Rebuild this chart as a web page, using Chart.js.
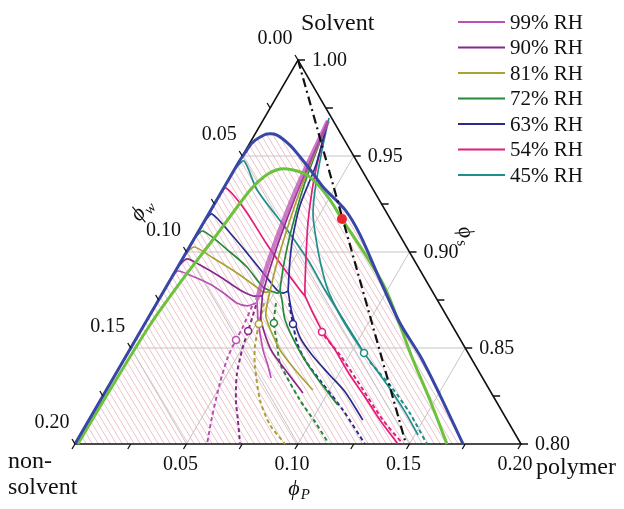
<!DOCTYPE html>
<html>
<head>
<meta charset="utf-8">
<title>Ternary drying paths</title>
<script src="https://cdn.jsdelivr.net/npm/chart.js@4.4.1/dist/chart.umd.min.js"></script>
<style>
  html, body { margin: 0; padding: 0; background: #fff; }
  #wrap { width: 624px; height: 509px; }
</style>
</head>
<body>
<div id="wrap"><canvas id="chart" width="624" height="509"></canvas></div>
<script>
// every composition is [phiP, phiS]  (phiW = 1 - phiP - phiS)

const gridTicks = [0.05, 0.10, 0.15]
const edgeTicks = [0, 0.025, 0.05, 0.075, 0.10, 0.125, 0.15, 0.175, 0.20]
const wLabelVals = [0, 0.05, 0.10, 0.15, 0.20]
const wLabels = ['0.00', '0.05', '0.10', '0.15', '0.20']
const sLabelVals = [1.00, 0.95, 0.90, 0.85, 0.80]
const sLabels = ['1.00', '0.95', '0.90', '0.85', '0.80']
const pLabelVals = [0.05, 0.10, 0.15, 0.20]
const pLabels = ['0.05', '0.10', '0.15', '0.20']

const rhLabels = ['99% RH', '90% RH', '81% RH', '72% RH', '63% RH', '54% RH', '45% RH']
const rhColors = ['#bb4fb5', '#86288a', '#a9a133', '#25883c', '#272c8e', '#e41c7c', '#1f8f8c']

// binodals
const blueBinodal = [[0, 0.8], [0, 0.9464], [0.0004, 0.9516], [0.0010, 0.9568], [0.0031, 0.9599], [0.0054, 0.9615],
  [0.0101, 0.9609], [0.0185, 0.9557], [0.0262, 0.9495], [0.0361, 0.9411], [0.0443, 0.9339], [0.0602, 0.9219],
  [0.0734, 0.9089], [0.0941, 0.8854], [0.1142, 0.8630], [0.1324, 0.8453], [0.1509, 0.8255], [0.1740, 0.8]]
const limeBinodal = [[0.0013, 0.8], [0.0016, 0.8281], [0.0026, 0.8620], [0.0053, 0.8854], [0.0089, 0.9078],
  [0.0124, 0.9323], [0.0154, 0.9396], [0.0203, 0.9432], [0.0264, 0.9427], [0.0339, 0.9401], [0.0416, 0.9349],
  [0.0508, 0.9271], [0.0611, 0.9172], [0.0822, 0.8974], [0.0994, 0.8802], [0.1284, 0.8453], [0.1477, 0.8229], [0.1668, 0.8]]
const dashDot = [[0, 1.0], [0.1484, 0.8]]
const redDot = [[0.0611, 0.9172]]

// 99% RH
const rh99Top = [[0, 0.8861], [0.0011, 0.8901], [0.0087, 0.8875], [0.0188, 0.8833], [0.0282, 0.8781], [0.0359, 0.8734], [0.0412, 0.8719], [0.0445, 0.8734]]
const rh99Drop = [[0.0293, 0.9682], [0.0326, 0.9349], [0.0366, 0.9089], [0.0408, 0.8880], [0.0441, 0.8750]]
const rh99Solid = [[0.0441, 0.8750], [0.0498, 0.8646], [0.0598, 0.8490], [0.0659, 0.8411], [0.0707, 0.8344]]
const rh99Dash = [[0.0435, 0.8719], [0.0448, 0.8609], [0.0451, 0.8542], [0.0459, 0.8453], [0.0491, 0.8318], [0.0544, 0.8141], [0.0592, 0.8]]
// 90% RH
const rh90Top = [[0, 0.8924], [0.0020, 0.8964], [0.0095, 0.8932], [0.0227, 0.8865], [0.0339, 0.8802], [0.0413, 0.8771], [0.0454, 0.8771]]
const rh90Drop = [[0.0293, 0.9682], [0.0335, 0.9349], [0.0380, 0.9089], [0.0425, 0.8880], [0.0454, 0.8771]]
const rh90Solid = [[0.0454, 0.8771], [0.0464, 0.8750], [0.0511, 0.8646], [0.0634, 0.8490], [0.0763, 0.8375], [0.0889, 0.8266]]
const rh90Dash = [[0.0450, 0.8724], [0.0466, 0.8656], [0.0482, 0.8589], [0.0504, 0.8490], [0.0546, 0.8359], [0.0607, 0.8229], [0.0668, 0.8125], [0.0740, 0.8]]
// 81% RH
const rh81Top = [[0, 0.8986], [0.0021, 0.9026], [0.0135, 0.8969], [0.0281, 0.8891], [0.0396, 0.8823], [0.0447, 0.8792], [0.0478, 0.8792]]
const rh81Drop = [[0.0293, 0.9682], [0.0344, 0.9349], [0.0398, 0.9089], [0.0444, 0.8906], [0.0478, 0.8792]]
const rh81Solid = [[0.0478, 0.8792], [0.0490, 0.8750], [0.0526, 0.8661], [0.0674, 0.8490], [0.0808, 0.8375], [0.0926, 0.8281]]
const rh81Dash = [[0.0481, 0.8734], [0.0498, 0.8672], [0.0512, 0.8625], [0.0554, 0.8505], [0.0601, 0.8411], [0.0715, 0.8229], [0.0825, 0.8099], [0.0942, 0.8]]
// 72% RH
const rh72Top = [[0, 0.9069], [0.0019, 0.9109], [0.0195, 0.9000], [0.0310, 0.8922], [0.0434, 0.8818], [0.0513, 0.8786], [0.0528, 0.8792]]
const rh72Drop = [[0.0293, 0.9682], [0.0353, 0.9349], [0.0420, 0.9089], [0.0475, 0.8917], [0.0518, 0.8802]]
const rh72Solid = [[0.0518, 0.8802], [0.0553, 0.8750], [0.0619, 0.8646], [0.0759, 0.8490], [0.0896, 0.8359], [0.1077, 0.8203]]
const rh72Dash = [[0.0534, 0.8734], [0.0577, 0.8630], [0.0643, 0.8526], [0.0708, 0.8422], [0.0894, 0.8229], [0.1019, 0.8115], [0.1139, 0.8]]
// 63% RH
const rh63Top = [[0, 0.9158], [0.0015, 0.9198], [0.0146, 0.9099], [0.0274, 0.8995], [0.0398, 0.8891], [0.0505, 0.8802], [0.0540, 0.8786], [0.0557, 0.8797]]
const rh63Drop = [[0.0293, 0.9682], [0.0354, 0.9453], [0.0387, 0.9245], [0.0434, 0.9089], [0.0485, 0.8958], [0.0557, 0.8797]]
const rh63Solid = [[0.0557, 0.8797], [0.0577, 0.8766], [0.0632, 0.8682], [0.0730, 0.8557], [0.0831, 0.8464], [0.0963, 0.8359], [0.1076, 0.8271], [0.1228, 0.8125]]
const rh63Dash = [[0.0593, 0.8734], [0.0665, 0.8625], [0.0733, 0.8526], [0.0812, 0.8438], [0.0949, 0.8318], [0.1113, 0.8177], [0.1300, 0.8]]
// 54% RH
const rh54Top = [[0, 0.9293], [0.0010, 0.9333], [0.0153, 0.9219], [0.0333, 0.9047], [0.0489, 0.8906], [0.0608, 0.8802], [0.0646, 0.8771]]
const rh54Drop = [[0.0293, 0.9682], [0.0350, 0.9479], [0.0402, 0.9323], [0.0469, 0.9151], [0.0549, 0.8974], [0.0622, 0.8818], [0.0646, 0.8771]]
const rh54Solid = [[0.0646, 0.8771], [0.0665, 0.8750], [0.0726, 0.8682], [0.0814, 0.8589], [0.0921, 0.8490], [0.1053, 0.8359], [0.1178, 0.8245], [0.1305, 0.8125], [0.1448, 0.8]]
const rh54Dash = [[0.0836, 0.8563], [0.0956, 0.8464], [0.1097, 0.8333], [0.1318, 0.8125], [0.1471, 0.8]]
// 45% RH
const rh45Top = [[0, 0.9434], [0.0021, 0.9474], [0.0155, 0.9323], [0.0394, 0.9115], [0.0566, 0.8958], [0.0720, 0.8802], [0.0893, 0.8635], [0.1059, 0.8474]]
const rh45Drop = [[0.0290, 0.9698], [0.0342, 0.9531], [0.0415, 0.9323], [0.0471, 0.9193], [0.0550, 0.9063], [0.0637, 0.8932], [0.0733, 0.8802], [0.0852, 0.8672], [0.0958, 0.8568], [0.1059, 0.8474]]
const rh45Solid = [[0.1059, 0.8474], [0.1171, 0.8375], [0.1287, 0.8271], [0.1403, 0.8161], [0.1515, 0.8047]]
const rh45Dash = [[0.1109, 0.8427], [0.1276, 0.8292], [0.1421, 0.8161], [0.1578, 0.8]]

const circles = [[0.0451, 0.8542], [0.0482, 0.8589], [0.0512, 0.8625], [0.0577, 0.8630], [0.0665, 0.8625], [0.0816, 0.8583], [0.1059, 0.8474]]

const rhPaths = [
  [rh99Top, rh99Drop, rh99Solid, rh99Dash],
  [rh90Top, rh90Drop, rh90Solid, rh90Dash],
  [rh81Top, rh81Drop, rh81Solid, rh81Dash],
  [rh72Top, rh72Drop, rh72Solid, rh72Dash],
  [rh63Top, rh63Drop, rh63Solid, rh63Dash],
  [rh54Top, rh54Drop, rh54Solid, rh54Dash],
  [rh45Top, rh45Drop, rh45Solid, rh45Dash]
]

const serif = '"Liberation Serif", "Times New Roman", serif'

// ternary -> chart coords: x runs along the bottom edge, y is phiS
function toXY(pt) {
  return { x: pt[0] + (pt[1] - 0.8) / 2, y: pt[1] }
}

function px(chart, p, s) {
  return {
    x: chart.scales.x.getPixelForValue(p + (s - 0.8) / 2),
    y: chart.scales.y.getPixelForValue(s)
  }
}

function makeHatch() {
  var c = document.createElement('canvas')
  c.width = 6
  c.height = 10
  var g = c.getContext('2d')
  g.strokeStyle = '#ebbcc3'
  g.lineWidth = 0.9
  for (var dx = -6; dx <= 6; dx += 6) {
    g.beginPath()
    g.moveTo(dx, 0)
    g.lineTo(dx + 6, 10)
    g.stroke()
  }
  return g.createPattern(c, 'repeat')
}

function lineSet(points, color, width, dash, tension) {
  return {
    data: points.map(toXY),
    showLine: true,
    borderColor: color,
    borderWidth: width,
    borderDash: dash || [],
    pointRadius: 0,
    tension: tension === undefined ? 0.3 : tension,
    fill: false,
    clip: false
  }
}

var sets = []

// hatched region under the outer binodal
sets.push({
  data: blueBinodal.map(toXY), showLine: true, borderWidth: 0, borderColor: 'rgba(0,0,0,0)',
  backgroundColor: makeHatch(), fill: 'start', pointRadius: 0, tension: 0.3
})

// grid
for (var i = 0; i < gridTicks.length; i++) {
  var v = gridTicks[i]
  sets.push(lineSet([[0, 0.8 + v], [0.2 - v, 0.8 + v]], '#c4c4c4', 1, null, 0))
  sets.push(lineSet([[v, 0.8], [v, 1 - v]], '#c4c4c4', 1, null, 0))
  sets.push(lineSet([[0, 1 - v], [0.2 - v, 0.8]], '#c4c4c4', 1, null, 0))
}

// frame
sets.push(lineSet([[0, 0.8], [0, 1.0], [0.2, 0.8], [0, 0.8]], '#111', 1.6, null, 0))

// drying paths
for (var r = rhPaths.length - 1; r >= 0; r--) {
  var col = rhColors[r]
  sets.push(lineSet(rhPaths[r][0], col, 1.7, null, 0.25))
  sets.push(lineSet(rhPaths[r][1], r === 0 ? 'rgba(187,79,181,0.75)' : col, r === 0 ? 4.5 : 1.7, null, 0.25))
  sets.push(lineSet(rhPaths[r][2], col, 1.7, null, 0.25))
  sets.push(lineSet(rhPaths[r][3], col, 2, [4, 3], 0.25))
}

sets.push(lineSet(limeBinodal, '#6cc23c', 3, null, 0.3))
sets.push(lineSet(blueBinodal, '#3847a6', 3, null, 0.3))
sets.push(lineSet(dashDot, '#111', 2.2, [9, 4, 2, 4], 0))

sets.push({
  data: circles.map(toXY), showLine: false, pointRadius: 3.5,
  pointBackgroundColor: '#fff', pointBorderColor: rhColors, pointBorderWidth: 1.5, clip: false
})
sets.push({
  data: redDot.map(toXY), showLine: false, pointRadius: 5,
  pointBackgroundColor: '#e8262b', pointBorderWidth: 0, clip: false
})

// later entries go on top
for (var k = 0; k < sets.length; k++) sets[k].order = sets.length - k

function drawSub(ctx, x, y, angle, sub) {
  ctx.save()
  ctx.translate(x, y)
  ctx.rotate(angle)
  ctx.fillStyle = '#111'
  ctx.textBaseline = 'middle'
  ctx.textAlign = 'left'
  ctx.font = 'italic 22px ' + serif
  var w = ctx.measureText('\u03d5').width
  ctx.fillText('\u03d5', -w / 2 - 4, 0)
  ctx.font = 'italic 15px ' + serif
  ctx.fillText(sub, w / 2 - 3, 6)
  ctx.restore()
}

const ternaryDecor = {
  id: 'ternaryDecor',
  afterDatasetsDraw(chart) {
    var ctx = chart.ctx
    ctx.save()
    ctx.strokeStyle = '#111'
    ctx.lineWidth = 1.3
    for (var i = 0; i < edgeTicks.length; i++) {
      var v = edgeTicks[i]
      var b = px(chart, v, 0.8)
      var l = px(chart, 0, 1 - v)
      var r = px(chart, 0.2 - v, 0.8 + v)
      ctx.beginPath()
      ctx.moveTo(b.x, b.y); ctx.lineTo(b.x - 3, b.y + 5)
      ctx.moveTo(l.x, l.y); ctx.lineTo(l.x - 3, l.y - 5)
      ctx.moveTo(r.x, r.y); ctx.lineTo(r.x + 7, r.y)
      ctx.stroke()
    }

    ctx.fillStyle = '#111'
    ctx.font = '20px ' + serif
    ctx.textBaseline = 'middle'
    ctx.textAlign = 'center'
    for (var j = 0; j < wLabels.length; j++) {
      var pl = px(chart, 0, 1 - wLabelVals[j])
      ctx.fillText(wLabels[j], pl.x - 23, pl.y - 21)
    }
    for (var j = 0; j < pLabels.length; j++) {
      var pb = px(chart, pLabelVals[j], 0.8)
      ctx.fillText(pLabels[j], pb.x - 6, pb.y + 21)
    }
    ctx.textAlign = 'left'
    for (var j = 0; j < sLabels.length; j++) {
      var s = sLabelVals[j]
      var pr = px(chart, 1 - s, s)
      ctx.fillText(sLabels[j], pr.x + 14, pr.y + 1)
    }

    ctx.font = '24px ' + serif
    ctx.fillText('Solvent', 301, 24)
    ctx.fillText('non-', 8, 462)
    ctx.fillText('solvent', 8, 488)
    ctx.fillText('polymer', 536, 468)

    drawSub(ctx, 298, 489, 0, 'P')
    drawSub(ctx, 141, 211, -50 * Math.PI / 180, 'w')
    drawSub(ctx, 466, 236, 75 * Math.PI / 180, 's')

    // legend
    ctx.font = '21px ' + serif
    for (var n = 0; n < rhLabels.length; n++) {
      var y = 22 + n * 25.5
      ctx.strokeStyle = rhColors[n]
      ctx.lineWidth = 2
      ctx.beginPath()
      ctx.moveTo(458, y)
      ctx.lineTo(505, y)
      ctx.stroke()
      ctx.fillStyle = '#111'
      ctx.fillText(rhLabels[n], 510, y + 1)
    }
    ctx.restore()
  }
}

new Chart(document.getElementById('chart'), {
  type: 'scatter',
  data: { datasets: sets },
  options: {
    responsive: false,
    animation: false,
    events: [],
    layout: { padding: { left: 75, right: 103, top: 60, bottom: 65 } },
    scales: {
      x: { type: 'linear', min: 0, max: 0.2, display: false },
      y: { type: 'linear', min: 0.8, max: 1.0, display: false }
    },
    plugins: { legend: { display: false }, tooltip: { enabled: false } }
  },
  plugins: [ternaryDecor]
})
</script>
</body>
</html>
